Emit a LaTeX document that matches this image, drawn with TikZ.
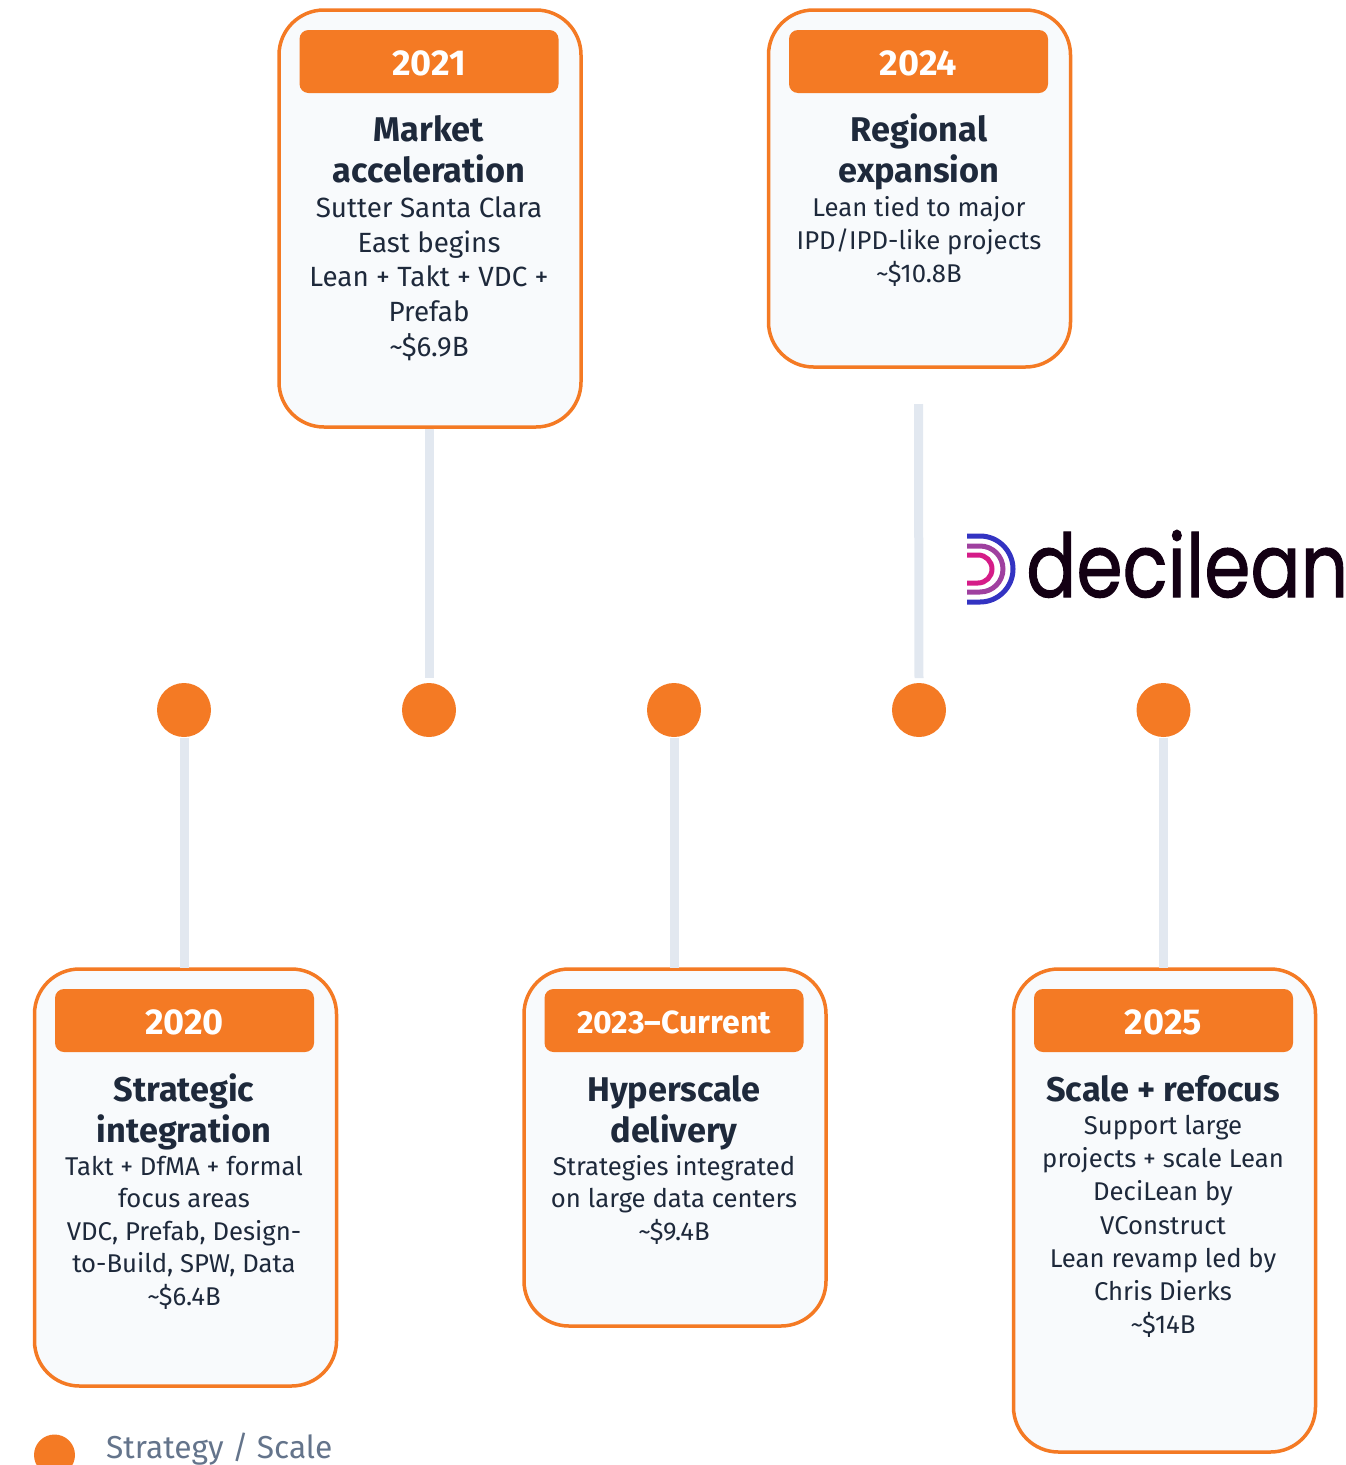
\documentclass[tikz,border=0pt]{standalone}
\usepackage{fontspec}
\setmainfont{Fira Sans}
\newfontfamily\logofont{Poppins}[FakeBold=1.2]
\definecolor{orangeM}{HTML}{F47A24}
\definecolor{cardbg}{HTML}{F8FAFC}
\definecolor{linkc}{HTML}{E2E8F0}
\definecolor{darkt}{HTML}{1E293B}
\definecolor{greyt}{HTML}{64748B}
\newcommand{\fs}[2]{\fontsize{#1}{#2}\selectfont}
\tikzset{
  card/.style={draw=orangeM,line width=3.5pt,fill=cardbg,rounded corners=45pt,minimum width=302pt,inner sep=0pt,outer sep=1.5pt},
  yearbox/.style={fill=orangeM,rounded corners=9pt,minimum width=259pt,minimum height=63pt,text=white,font=\bfseries\fs{36}{36},inner sep=0pt,text height=28pt,text depth=0pt},
  title/.style={text=darkt,font=\bfseries\fs{34.3}{41},align=center,anchor=north,inner sep=0pt},
  body/.style={text=darkt,font=\fs{25.7}{33},align=center,anchor=north,inner sep=0pt},
  dotn/.style={circle,fill=orangeM,minimum size=54pt,inner sep=0pt,outer sep=1pt},
  link/.style={draw=linkc,line width=9pt},
}
\begin{document}
\begin{tikzpicture}[x=1pt,y=-1pt]
\useasboundingbox (0,0) rectangle (1346,1465);
\clip (0,0) rectangle (1346,1465);
% dots
\node[dotn] (d2020) at (184,710) {};
\node[dotn] (d2021) at (429,710) {};
\node[dotn] (d2023) at (674,710) {};
\node[dotn] (d2024) at (919,710) {};
\node[dotn] (d2025) at (1163.5,710) {};
% cards
\node[card,minimum height=417pt] (c2021) at (430,218.5) {};
\node[card,minimum height=357pt] (c2024) at (919.5,188.5) {};
\node[card,minimum height=417pt] (c2020) at (185.5,1177.5) {};
\node[card,minimum height=357pt] (c2023) at (675,1147.5) {};
\node[card,minimum height=483pt] (c2025) at (1164.5,1210.5) {};
% connectors
\coordinate (free2024) at (918.5,404);
\draw[link,shorten >=4pt] (c2021.south -| d2021) -- (d2021.north);
\draw[link,shorten >=4pt] (free2024) -- (d2024.north);
\draw[link] (d2020.south) -- (c2020.north -| d2020);
\draw[link] (d2023.south) -- (c2023.north -| d2023);
\draw[link] (d2025.south) -- (c2025.north -| d2025);
% headers
\node[yearbox] (y2021) at (429,61.5) {2021};
\node[yearbox] (y2024) at (918.5,61.5) {2024};
\node[yearbox] (y2020) at (184.5,1020.5) {2020};
\node[yearbox,font=\bfseries\fs{32}{36},text height=25.5pt] (y2023) at (674,1020.5) {2023–Current};
\node[yearbox] (y2025) at (1163.5,1020.5) {2025};
% titles
\node[title] (t2021) at (429,115) {Market\\acceleration};
\node[title] (t2024) at (919,113) {Regional\\expansion};
\node[title] (t2020) at (184,1073) {Strategic\\integration};
\node[title] (t2023) at (674,1075) {Hyperscale\\delivery};
\node[title] (t2025) at (1163,1075) {Scale + refocus};
% bodies
\node[body,font=\fs{27.8}{34.7}] (b2021) at (429,196.5) {Sutter Santa Clara\\East begins\\Lean + Takt + VDC +\\Prefab\\\textasciitilde\$6.9B};
\node[body] (b2024) at (919,196) {Lean tied to major\\IPD/IPD-like projects\\\textasciitilde\$10.8B};
\node[body,font=\fs{25.7}{32.5}] (b2020) at (184,1156) {Takt + DfMA + formal\\focus areas\\VDC, Prefab, Design-\\to-Build, SPW, Data\\\textasciitilde\$6.4B};
\node[body,font=\fs{25.7}{32.5}] (b2023) at (674,1155) {Strategies integrated\\on large data centers\\\textasciitilde\$9.4B};
\node[body,font=\fs{25.7}{33.2}] (b2025) at (1163,1115) {Support large\\projects + scale Lean\\DeciLean by\\VConstruct\\Lean revamp led by\\Chris Dierks\\\textasciitilde\$14B};
% logo
\draw[line width=5pt,color=blue!70!black!80!white] (967,536) -- (980,536) arc (-90:90:33) -- (967,602);
\draw[line width=5pt,color=violet!75!white] (967,546) -- (980,546) arc (-90:90:23) -- (967,592);
\draw[line width=5pt,color=magenta!75!violet] (967,555) -- (978,555) arc (-90:90:14) -- (967,583);
\node[anchor=base west,inner sep=0pt,text=black!85!violet,font=\logofont\fs{88}{90}] (logo) at (1026,597) {\scalebox{0.845}[1]{decilean}};
% legend
\node[circle,fill=orangeM,minimum size=41pt,inner sep=0pt] (legdot) at (54.5,1455) {};
\node[anchor=base west,inner sep=0pt,text=greyt,font=\fs{31.7}{36}] (legtxt) at (106,1458) {Strategy / Scale};
\end{tikzpicture}
\end{document}
